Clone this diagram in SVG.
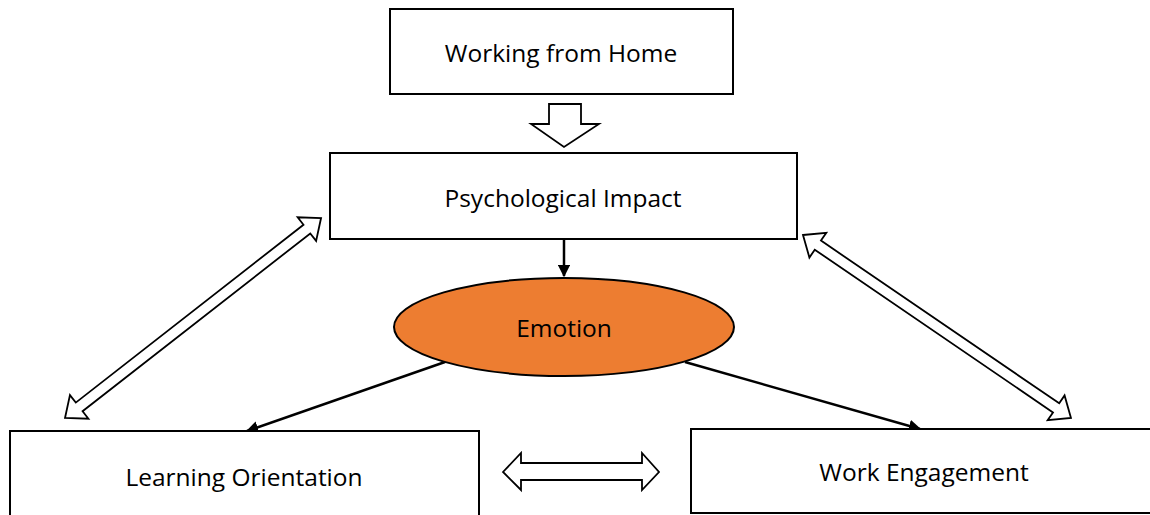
<svg xmlns="http://www.w3.org/2000/svg" width="1150" height="515" viewBox="0 0 1150 515">
<style>
.box{fill:#fff;stroke:#000;stroke-width:2}
.lbl{font-family:"Open Sans","Liberation Sans",sans-serif;font-size:24.5px;fill:#000;text-anchor:middle;dominant-baseline:central}
.blk{fill:#fff;stroke:#000;stroke-width:1.8;stroke-linejoin:miter}
.ln{stroke:#000;stroke-width:2.5;fill:none}
</style>
<defs>
<marker id="ah" viewBox="0 0 10 10" refX="9" refY="5" markerWidth="5" markerHeight="5" orient="auto" markerUnits="strokeWidth">
<path d="M0,0 L10,5 L0,10 z" fill="#000"/>
</marker>
</defs>
<rect width="1150" height="515" fill="#fff"/>
<g id="connectors">
<polygon class="blk" points="549,104 581,104 581,124 599,124 564,147 531,124 549,124"/>
<line class="ln" x1="564" y1="239" x2="564" y2="276" stroke-width="2" marker-end="url(#ah)"/>
<line class="ln" x1="445" y1="362" x2="247" y2="431" marker-end="url(#ah)"/>
<line class="ln" x1="685" y1="362" x2="920" y2="429" marker-end="url(#ah)"/>
<polygon class="blk" transform="translate(65,418) rotate(-37.99)" points="0,0 18,-15 18,-5.5 306.9,-5.5 306.9,-15 324.9,0 306.9,15 306.9,5.5 18,5.5 18,15"/>
<polygon class="blk" transform="translate(803,235) rotate(34.33)" points="0,0 18,-15 18,-5.5 306.5,-5.5 306.5,-15 324.5,0 306.5,15 306.5,5.5 18,5.5 18,15"/>
<polygon class="blk" points="503,472 521,453 521,463 642,463 642,453 659,472 642,490 642,480 521,480 521,490"/>
</g>
<g id="node-wfh">
<rect class="box" x="390" y="9" width="343" height="85"/>
<text class="lbl" x="561" y="52">Working from Home</text>
</g>
<g id="node-psych">
<rect class="box" x="330" y="153" width="467" height="86"/>
<text class="lbl" x="563" y="197">Psychological Impact</text>
</g>
<g id="node-emotion">
<ellipse cx="564" cy="327" rx="170" ry="49" fill="#ED7D31" stroke="#000" stroke-width="2"/>
<text class="lbl" x="564" y="327">Emotion</text>
</g>
<g id="node-learning">
<rect class="box" x="10" y="431" width="469" height="95"/>
<text class="lbl" x="244" y="476">Learning Orientation</text>
</g>
<g id="node-work">
<rect class="box" x="691" y="429" width="470" height="84"/>
<text class="lbl" x="924" y="471">Work Engagement</text>
</g>
</svg>
